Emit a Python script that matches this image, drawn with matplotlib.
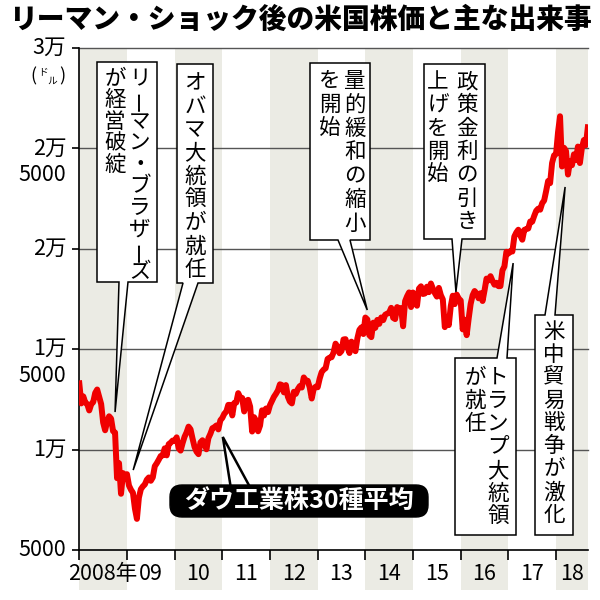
import matplotlib
matplotlib.use("Agg")
import matplotlib.pyplot as plt
from matplotlib.patches import Polygon, FancyBboxPatch

plt.rcParams['font.family'] = ['Noto Sans CJK JP', 'DejaVu Sans']

# ---------------- data (semi-monthly Dow Jones Industrial Average, USD) ----------------
dow_start = 13300
dow_2008 = [12300, 12650, 12348, 12266, 11951, 12262, 12362, 12820, 12992, 12638, 12269, 11350,
            10963, 11378, 11659, 11544, 10917, 10851, 8578, 9325, 7800, 8829, 8565, 8776]
dow_2009 = [8212, 8001, 7850, 7063, 6550, 7609, 8029, 8168, 8268, 8500, 8612, 8447,
            8616, 9172, 9321, 9496, 9683, 9712, 10063, 9713, 10270, 10345, 10452, 10428]
dow_2010 = [10610, 10067, 9950, 10325, 10642, 10857, 11144, 11009, 10550, 10137, 9900, 9774,
            10359, 10466, 10303, 10015, 10572, 10788, 11062, 11118, 11201, 11006, 11457, 11578]
dow_2011 = [11787, 11892, 12226, 12226, 11700, 12320, 12342, 12811, 12595, 12570, 11898, 12414,
            12479, 12143, 10900, 11614, 11433, 10913, 11200, 11955, 11700, 12046, 11868, 12218]
dow_2012 = [12422, 12633, 12781, 12952, 13252, 13212, 12850, 13214, 12632, 12393, 12300, 12880,
            12777, 13009, 13164, 13091, 13593, 13437, 13425, 13096, 12543, 13026, 13135, 13104]
dow_2013 = [13534, 13861, 13982, 14054, 14514, 14579, 14599, 14840, 15275, 15116, 14800, 14910,
            15484, 15500, 15112, 14810, 15376, 15130, 14900, 15546, 15962, 16086, 15755, 16577]
dow_2014 = [16482, 15699, 15600, 16322, 16065, 16458, 16262, 16581, 16447, 16717, 16775, 16827,
            17060, 16563, 16500, 17098, 17031, 17043, 16142, 17391, 17634, 17828, 17100, 17823]
dow_2015 = [17321, 17165, 18019, 18133, 17749, 17776, 18112, 17841, 18272, 18011, 17792, 17620,
            18053, 17690, 17477, 16100, 16599, 16200, 17141, 17664, 17245, 17720, 17524, 17425]
dow_2016 = [15988, 16466, 15700, 16517, 17251, 17685, 17897, 17774, 17535, 17787, 17400, 17930,
            18516, 18432, 18636, 18401, 18212, 18308, 18138, 18142, 18923, 19124, 19852, 19763]
dow_2017 = [19885, 19864, 20611, 20812, 20950, 20663, 20453, 20941, 20982, 21009, 21360, 21350,
            21638, 21891, 21998, 21948, 22268, 22405, 22871, 23377, 23271, 24272, 24652, 24719]
dow_2018 = [25803, 26600, 24100, 25029, 24873, 23700, 24360, 24163, 24706, 24416, 25090, 24271,
            25019, 25415, 25162, 26050]
dow_by_year = [dow_2008, dow_2009, dow_2010, dow_2011, dow_2012, dow_2013,
               dow_2014, dow_2015, dow_2016, dow_2017, dow_2018]
first_year = 2008
x_end = 2018.67

yticks = [5000, 10000, 15000, 20000, 25000, 30000]
ylabels = ["5000", "1万", "1万\n5000", "2万", "2万\n5000", "3万"]
xlabels = ["2008年", "09", "10", "11", "12", "13", "14", "15", "16", "17", "18"]

title = "リーマン・ショック後の米国株価と主な出来事"
series_label = "ダウ工業株30種平均"

event_texts = [["リーマン・ブラザーズ", "が経営破綻"],
               ["オバマ大統領が就任"],
               ["量的緩和の縮小", "を開始"],
               ["政策金利の引き", "上げを開始"],
               ["トランプ大統領", "が就任"],
               ["米中貿易戦争が激化"]]
event_dates = [2008.75, 2009.13, 2014.04, 2015.90, 2017.10, 2018.19]
event_values = [11870, 8980, 16950, 17850, 19290, 23080]
series_tip = (2011.01, 10630)

# ---------------- layout (pixels, y from top) ----------------
W = H = 600
ax_left, ax_right, ax_top, ax_bot = 79.3, 588, 48, 550
event_layout = [
    # box(x0,x1,ytop,ybot), base(bx0,bx1), side, column x (right->left), first y, pitch
    ((97, 157, 62, 282), (119, 128), "bottom", [140, 115], 79, 21.5),
    ((177, 213, 64, 283), (183, 198), "bottom", [195], 83, 23.4),
    ((310, 370, 63, 240), (338, 350), "bottom", [355, 330], 81, 23.8),
    ((424, 485, 64, 239), (452, 462), "bottom", [467, 438], 82, 23.3),
    ((455, 516, 358, 535), (497, 507), "top", [498, 475], 378, 23.2),
    ((535, 573, 315, 535), (545, 555), "top", [554], 332, 22.9),
]
label_box = (170, 428, 485, 517)
label_base = (231, 251)

band_color = "#ebebe4"
line_color = "#f00000"
grid_color = "#555555"


def fx(px):
    return px / W


def fy(py):
    return 1 - py / H


fig = plt.figure(figsize=(6, 6), dpi=100)
ax = fig.add_axes([fx(ax_left), fy(ax_bot), (ax_right - ax_left) / W, (ax_bot - ax_top) / H])

# series x positions: start of period, then 15th and end of each month
xs, ys = [first_year], [dow_start]
for i, vals in enumerate(dow_by_year):
    yr = first_year + i
    for k, v in enumerate(vals):
        xs.append(yr + (k + 1) / 24)
        ys.append(v)

ax.set_xlim(first_year, x_end)
ax.set_ylim(yticks[0], yticks[-1])

# year bands
below = (ax_bot - 590) / (ax_bot - ax_top)
for yr in range(first_year, int(x_end) + 1, 2):
    ax.axvspan(yr, min(yr + 1, x_end), ymin=below, ymax=1, color=band_color, lw=0,
               clip_on=False, zorder=0)

for v in yticks[1:]:
    ax.axhline(v, color=grid_color, lw=1.0, zorder=1, clip_on=False)

ax.plot(xs, ys, color=line_color, lw=4.3, solid_joinstyle="round", zorder=3)

for s in ["top", "right"]:
    ax.spines[s].set_visible(False)
for s in ["left", "bottom"]:
    ax.spines[s].set_linewidth(1.2)
    ax.spines[s].set_color("black")
ax.set_facecolor("none")

ax.set_yticks(yticks)
ax.set_yticklabels([])
ax.tick_params(axis="y", length=5, width=1.2, direction="out")

years = list(range(first_year, int(x_end) + 1))
ax.set_xticks(years)
ax.set_xticklabels([])
centers = [(max(y, first_year) + min(y + 1, x_end)) / 2 for y in years]
ax.set_xticks(centers, minor=True)
ax.set_xticklabels(xlabels, minor=True)
ax.tick_params(axis="x", which="major", length=7, width=1.2, direction="out")
ax.tick_params(axis="x", which="minor", length=0, pad=9, labelsize=15.5)

# y labels (manual, multi-line with first line on tick)
for v, lab in zip(yticks, ylabels):
    for i, line in enumerate(lab.split("\n")):
        ax.annotate(line, xy=(0, v), xycoords=("axes fraction", "data"),
                    xytext=(-9.5, -i * 19.4), textcoords="offset points",
                    ha="right", va="center", fontsize=15.5, annotation_clip=False)

# unit label (ドル)
fig.text(fx(33), fy(76), "(", ha="center", va="center", fontsize=13)
fig.text(fx(62.5), fy(76), ")", ha="center", va="center", fontsize=13)
fig.text(fx(43.5), fy(71), "ド", ha="center", va="center", fontsize=7)
fig.text(fx(52), fy(81), "ル", ha="center", va="center", fontsize=7)

# title
fig.text(0.5, fy(20), title, ha="center", va="center", fontsize=20, weight="black")


def tip_fig(x, y):
    d = ax.transData.transform((x, y))
    return fig.transFigure.inverted().transform(d)


# callouts
for texts, tx, ty, lay in zip(event_texts, event_dates, event_values, event_layout):
    (x0, x1, yt, yb), (b0, b1), side, cols, y0, pitch = lay
    tip = tip_fig(tx, ty)
    if side == "bottom":
        verts = [(fx(x0), fy(yt)), (fx(x1), fy(yt)), (fx(x1), fy(yb)), (fx(b1), fy(yb)),
                 tuple(tip), (fx(b0), fy(yb)), (fx(x0), fy(yb))]
    else:
        verts = [(fx(x0), fy(yb)), (fx(x1), fy(yb)), (fx(x1), fy(yt)), (fx(b1), fy(yt)),
                 tuple(tip), (fx(b0), fy(yt)), (fx(x0), fy(yt))]
    poly = Polygon(verts, closed=True, transform=fig.transFigure, facecolor="white",
                   edgecolor="black", lw=1.1, joinstyle="miter", zorder=5)
    fig.add_artist(poly)
    for cx, col in zip(cols, texts):
        for i, ch in enumerate(col):
            rot = 90 if ch == "ー" else 0
            fig.text(fx(cx), fy(y0 + i * pitch), ch, ha="center", va="center",
                     fontsize=15.5, rotation=rot, zorder=6)

# series label with pointer
tip = tip_fig(*series_tip)
lx0, lx1, lyt, lyb = label_box
wedge = Polygon([(fx(label_base[0]), fy(lyt + 4)), tuple(tip), (fx(label_base[1]), fy(lyt + 4))],
                closed=True, transform=fig.transFigure, facecolor="white", edgecolor="black",
                lw=1.8, zorder=5)
fig.add_artist(wedge)
rbox = FancyBboxPatch((fx(lx0), fy(lyb)), (lx1 - lx0) / W, (lyb - lyt) / H,
                      boxstyle="round,pad=0,rounding_size=%f" % (12 / W),
                      transform=fig.transFigure, facecolor="black", edgecolor="black",
                      lw=1, zorder=6)
fig.add_artist(rbox)
fig.text(fx((lx0 + lx1) / 2), fy((lyt + lyb) / 2), series_label, ha="center", va="center",
         color="white", fontsize=18, weight="bold", zorder=7)

fig.savefig("out.png", dpi=100)
